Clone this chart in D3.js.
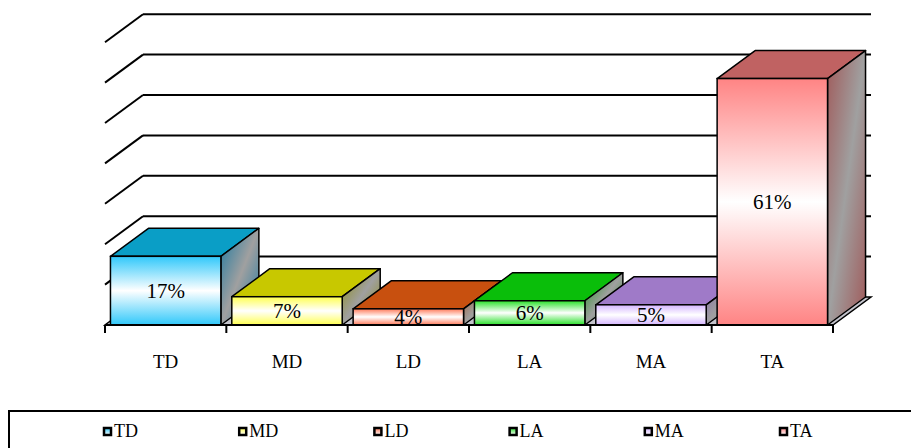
<!DOCTYPE html>
<meta charset="utf-8">
<head>
<style>
  body { margin: 0; background: #fff; }
  svg text { font-family: "Times New Roman", Times, "Liberation Serif", Tinos, serif; }
</style>
</head>
<script src="https://cdn.jsdelivr.net/npm/d3@7"></script>
<svg width="911" height="448" id="chart"></svg>
<script>
// data
const categories = ['TD', 'MD', 'LD', 'LA', 'MA', 'TA'];
const values = [17, 7, 4, 6, 5, 61];
const gridValues = [10, 20, 30, 40, 50, 60, 70];

// colours: top face, front face edge, side tint
const topColors = ['#0a9ec6', '#c8c800', '#c8500f', '#0abe0a', '#9f7ac8', '#c06262'];
const frontColors = ['#30c8fa', '#ffff50', '#ff7a5a', '#28e028', '#d4b4ff', '#ff8484'];
const sideColors = ['#1a78a0', '#8c8c10', '#a04818', '#189018', '#7e64a8', '#a05a5a'];

const svg = d3.select('#chart');
const defs = svg.append('defs');

const floorY = 325;
const dx = 38, dy = -28;

const x = d3.scaleBand().domain(categories).range([105, 833])
  .paddingInner(0.09).paddingOuter(0.045);
const y = d3.scaleLinear().domain([0, 70]).range([floorY, floorY - 7 * 40.4]);

// gradients
categories.forEach((c, i) => {
  const fg = defs.append('linearGradient').attr('id', 'front' + i)
    .attr('x1', 0).attr('y1', 0).attr('x2', 0).attr('y2', 1);
  fg.append('stop').attr('offset', '0%').attr('stop-color', frontColors[i]);
  fg.append('stop').attr('offset', '50%').attr('stop-color', '#ffffff');
  fg.append('stop').attr('offset', '100%').attr('stop-color', frontColors[i]);

  const sg = defs.append('linearGradient').attr('id', 'side' + i)
    .attr('x1', 0).attr('y1', 0).attr('x2', 1).attr('y2', 1);
  sg.append('stop').attr('offset', '0%').attr('stop-color', sideColors[i]);
  sg.append('stop').attr('offset', '50%').attr('stop-color', '#a0a0a0');
  sg.append('stop').attr('offset', '100%').attr('stop-color', sideColors[i]);

  const lg = defs.append('linearGradient').attr('id', 'leg' + i)
    .attr('x1', 0).attr('y1', 0).attr('x2', 0).attr('y2', 1);
  lg.append('stop').attr('offset', '0%').attr('stop-color', frontColors[i]);
  lg.append('stop').attr('offset', '100%').attr('stop-color', '#ffffff');
});

defs.append('clipPath').attr('id', 'plotclip')
  .append('rect').attr('x', 0).attr('y', 0).attr('width', 911).attr('height', floorY);

const x0 = x.range()[0], x1 = x.range()[1];

// back wall gridlines + left side wall diagonals
const grid = svg.append('g').attr('stroke', '#000').attr('stroke-width', 2).attr('fill', 'none');
grid.selectAll('line.back').data(gridValues).join('line')
  .attr('class', 'back')
  .attr('x1', x0 + dx).attr('x2', x1 + dx)
  .attr('y1', d => y(d) + dy).attr('y2', d => y(d) + dy);
grid.selectAll('line.side').data(gridValues).join('line')
  .attr('class', 'side')
  .attr('x1', x0).attr('x2', x0 + dx)
  .attr('y1', d => y(d)).attr('y2', d => y(d) + dy);

// floor
svg.append('polygon')
  .attr('points', [[x0, floorY], [x1, floorY], [x1 + dx, floorY + dy], [x0 + dx, floorY + dy]].join(' '))
  .attr('fill', '#c4c4cc').attr('stroke', '#000').attr('stroke-width', 1.5);

// bars
const w = x.bandwidth();
const bars = svg.append('g').selectAll('g').data(categories).join('g');
bars.each(function (c, i) {
  const g = d3.select(this);
  const bx = x(c), yt = y(values[i]);
  g.append('polygon')
    .attr('points', [[bx, yt], [bx + w, yt], [bx + w + dx, yt + dy], [bx + dx, yt + dy]].join(' '))
    .attr('fill', topColors[i]).attr('stroke', '#000').attr('stroke-width', 1.5)
    .attr('stroke-linejoin', 'round');
  g.append('polygon')
    .attr('points', [[bx + w, yt], [bx + w + dx, yt + dy], [bx + w + dx, floorY + dy], [bx + w, floorY]].join(' '))
    .attr('fill', `url(#side${i})`).attr('stroke', '#000').attr('stroke-width', 1.5)
    .attr('stroke-linejoin', 'round');
  g.append('rect')
    .attr('x', bx).attr('y', yt).attr('width', w).attr('height', floorY - yt)
    .attr('fill', `url(#front${i})`).attr('stroke', '#000').attr('stroke-width', 1.5);
  g.append('text')
    .attr('clip-path', 'url(#plotclip)')
    .attr('x', bx + w / 2).attr('y', (yt + floorY) / 2 + 7)
    .attr('text-anchor', 'middle').attr('font-size', 21)
    .text(values[i] + '%');
});

// category axis
svg.append('line').attr('x1', x0).attr('x2', x1).attr('y1', floorY).attr('y2', floorY)
  .attr('stroke', '#000').attr('stroke-width', 2);
const step = x.step();
svg.append('g').selectAll('line').data(d3.range(categories.length + 1)).join('line')
  .attr('x1', d => x0 + d * step).attr('x2', d => x0 + d * step)
  .attr('y1', floorY).attr('y2', floorY + 8)
  .attr('stroke', '#000').attr('stroke-width', 2);
svg.append('g').selectAll('text').data(categories).join('text')
  .attr('x', d => x(d) + w / 2).attr('y', 368)
  .attr('text-anchor', 'middle').attr('font-size', 19)
  .text(d => d);

// legend
svg.append('rect').attr('x', 9).attr('y', 411).attr('width', 920).attr('height', 60)
  .attr('fill', '#fff').attr('stroke', '#000').attr('stroke-width', 2);
const lx = d3.scalePoint().domain(categories).range([103, 779]);
const leg = svg.append('g').selectAll('g').data(categories).join('g')
  .attr('transform', d => `translate(${lx(d)},427)`);
leg.append('rect').attr('x', 1).attr('y', 1).attr('width', 7).attr('height', 7)
  .attr('fill', (d, i) => `url(#leg${i})`).attr('stroke', '#000').attr('stroke-width', 2.5);
leg.append('text').attr('x', 11).attr('y', 10).attr('font-size', 18)
  .text(d => d);
</script>
